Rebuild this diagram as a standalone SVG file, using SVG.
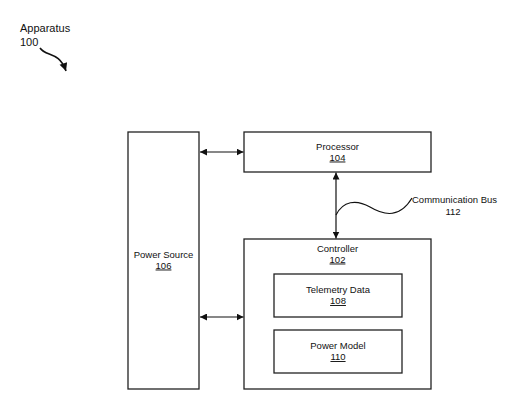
<svg xmlns="http://www.w3.org/2000/svg" width="520" height="418" viewBox="0 0 520 418">
<style>
.box{fill:#fff;stroke:#222;stroke-width:1.3}
.t{font-family:"Liberation Sans",Arial,sans-serif;font-size:9.5px;fill:#111;text-anchor:middle}
.u{text-decoration:underline}
.ln{fill:none;stroke:#111;stroke-width:1.2}
</style>
<defs>
<marker id="ah" viewBox="0 0 10 10" refX="10" refY="5" markerWidth="7" markerHeight="7" markerUnits="userSpaceOnUse" orient="auto-start-reverse">
<path d="M0,0 L10,5 L0,10 z" fill="#111"/>
</marker>
<marker id="ah2" viewBox="0 0 10 10" refX="10" refY="5" markerWidth="9" markerHeight="8" markerUnits="userSpaceOnUse" orient="auto">
<path d="M0,0 L10,5 L0,10 z" fill="#111"/>
</marker>
</defs>
<g id="label-apparatus">
<text x="20" y="32" style="font-family:'Liberation Sans',Arial,sans-serif;font-size:11px;fill:#111">Apparatus</text>
<text x="20" y="45.5" style="font-family:'Liberation Sans',Arial,sans-serif;font-size:11px;fill:#111">100</text>
</g>
<g id="power-source">
<rect class="box" x="128" y="132" width="71" height="257"/>
<text class="t" x="163.5" y="257.5">Power Source</text>
<text class="t u" x="163.5" y="268.5">106</text>
</g>
<g id="processor">
<rect class="box" x="244" y="132" width="187" height="40"/>
<text class="t" x="337.5" y="149.5">Processor</text>
<text class="t u" x="337.5" y="160.5">104</text>
</g>
<g id="controller">
<rect class="box" x="244" y="239" width="187" height="150"/>
<text class="t" x="337.5" y="251.5">Controller</text>
<text class="t u" x="337.5" y="262.5">102</text>
</g>
<g id="telemetry-data">
<rect class="box" x="274" y="274" width="128" height="43"/>
<text class="t" x="338" y="293">Telemetry Data</text>
<text class="t u" x="338" y="304">108</text>
</g>
<g id="power-model">
<rect class="box" x="274" y="330" width="128" height="43"/>
<text class="t" x="338" y="349">Power Model</text>
<text class="t u" x="338" y="360">110</text>
</g>
<g id="label-bus">
<text x="412" y="203" style="font-family:'Liberation Sans',Arial,sans-serif;font-size:9.5px;fill:#111">Communication Bus</text>
<text x="453" y="215" class="t">112</text>
</g>
<g id="connectors">
<line class="ln" x1="200" y1="152" x2="243.5" y2="152" marker-start="url(#ah)" marker-end="url(#ah)"/>
<line class="ln" x1="200" y1="317" x2="243.5" y2="317" marker-start="url(#ah)" marker-end="url(#ah)"/>
<line class="ln" x1="336" y1="172.5" x2="336" y2="238.5" marker-start="url(#ah)" marker-end="url(#ah)"/>
<path class="ln" d="M336,215 C343,201 356,199 370,207 C385,216 400,218 412,198"/>
<path class="ln" style="stroke-width:1.6" d="M40,48 C46,57 59,51 66,71" marker-end="url(#ah2)"/>
</g>
</svg>
